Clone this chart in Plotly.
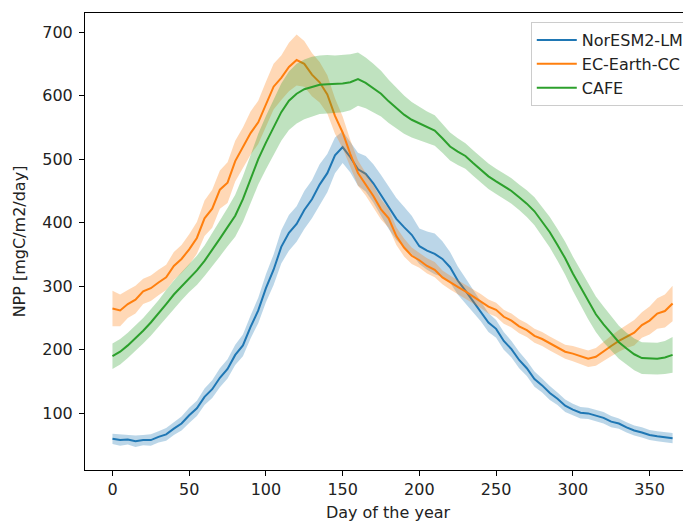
import plotly.graph_objects as go

# day-of-year sample points (every 5 days)
DAYS = [0, 5, 10, 15, 20, 25, 30, 35, 40, 45, 50, 55, 60, 65, 70, 75, 80, 85, 90, 95,
        100, 105, 110, 115, 120, 125, 130, 135, 140, 145, 150, 155, 160, 165, 170, 175,
        180, 185, 190, 195, 200, 205, 210, 215, 220, 225, 230, 235, 240, 245, 250, 255,
        260, 265, 270, 275, 280, 285, 290, 295, 300, 305, 310, 315, 320, 325, 330, 335,
        340, 345, 350, 355, 360, 365]

NORESM_MEAN = [60, 58, 59, 56, 58, 58, 63, 67, 76, 84, 97, 108, 126, 138, 156, 170, 192, 207, 236, 262,
               297, 326, 362, 384, 398, 420, 437, 460, 478, 506, 519, 503, 484, 477, 462, 443,
               424, 406, 393, 381, 363, 356, 351, 343, 330, 309, 293, 276, 261, 243, 233, 214,
               201, 184, 171, 154, 144, 132, 123, 112, 106, 101, 100, 96, 93, 87, 84, 78,
               73, 70, 66, 64, 62, 61]
NORESM_SPREAD = [8, 9, 8, 9, 8, 9, 9, 10, 10, 11, 12, 12, 13, 14, 15, 15, 16, 17, 18, 20,
                 22, 24, 26, 28, 28, 30, 30, 32, 30, 28, 25, 24, 26, 28, 30, 32,
                 34, 33, 32, 30, 28, 30, 32, 28, 24, 22, 20, 18, 16, 15, 14, 14,
                 13, 13, 12, 12, 11, 11, 10, 10, 9, 9, 9, 9, 9, 9, 8, 8,
                 8, 8, 8, 8, 8, 8]

ECEARTH_MEAN = [265, 262, 272, 279, 292, 297, 306, 314, 332, 343, 358, 376, 407, 422, 452, 463, 497, 518, 541, 558,
                587, 614, 628, 645, 656, 650, 633, 621, 602, 568, 542, 508, 478, 461, 442, 421,
                407, 379, 361, 348, 341, 332, 326, 314, 306, 299, 292, 284, 277, 268, 263, 252,
                246, 237, 231, 222, 217, 210, 203, 197, 194, 190, 186, 189, 198, 206, 214, 221,
                227, 239, 246, 257, 261, 273]
ECEARTH_SPREAD = [28, 25, 22, 22, 20, 20, 20, 20, 22, 22, 24, 25, 28, 30, 30, 32, 32, 32, 34, 34,
                  35, 36, 35, 38, 40, 36, 34, 32, 30, 28, 25, 22, 20, 18, 17, 16,
                  15, 14, 14, 13, 12, 12, 12, 11, 11, 11, 11, 11, 11, 11, 11, 11,
                  11, 11, 11, 11, 11, 11, 11, 11, 12, 12, 13, 14, 15, 16, 17, 18,
                  20, 20, 22, 24, 26, 28]

CAFE_MEAN = [190, 197, 207, 218, 230, 243, 257, 272, 287, 300, 313, 325, 340, 357, 375, 393, 411, 437, 468, 500,
             526, 550, 574, 592, 603, 610, 614, 617, 618, 618, 619, 621, 626, 620, 612, 603,
             591, 580, 570, 562, 556, 550, 545, 533, 520, 512, 505, 494, 483, 473, 465, 457,
             450, 440, 430, 418, 402, 385, 365, 344, 320, 298, 276, 256, 240, 226, 212, 202,
             193, 187, 186, 186, 188, 192]
CAFE_SPREAD = [20, 20, 20, 20, 20, 21, 21, 22, 22, 22, 22, 23, 24, 26, 28, 30, 33, 36, 38, 40,
               42, 44, 45, 46, 47, 47, 47, 46, 46, 45, 45, 44, 42, 40, 38, 36,
               34, 32, 30, 28, 26, 25, 24, 23, 22, 21, 20, 20, 20, 20, 20, 20,
               20, 20, 21, 22, 23, 24, 25, 26, 27, 28, 28, 28, 28, 27, 26, 25,
               25, 25, 25, 25, 26, 28]

MODELS = [
    ("NorESM2-LM", NORESM_MEAN, NORESM_SPREAD, "31,119,180"),
    ("EC-Earth-CC", ECEARTH_MEAN, ECEARTH_SPREAD, "255,127,14"),
    ("CAFE", CAFE_MEAN, CAFE_SPREAD, "44,160,44"),
]

FONT = "DejaVu Sans, Verdana, sans-serif"
TEXT = "#222222"

fig = go.Figure()
for name, mean, spread, rgb in MODELS:
    lower = [m - s for m, s in zip(mean, spread)]
    upper = [m + s for m, s in zip(mean, spread)]
    fig.add_trace(go.Scatter(x=DAYS, y=lower, mode="lines", line=dict(width=0),
                             showlegend=False, hoverinfo="skip"))
    fig.add_trace(go.Scatter(x=DAYS, y=upper, mode="lines", line=dict(width=0),
                             fill="tonexty", fillcolor=f"rgba({rgb},0.3)",
                             showlegend=False, hoverinfo="skip"))
    fig.add_trace(go.Scatter(x=DAYS, y=mean, mode="lines", name=name,
                             line=dict(color=f"rgb({rgb})", width=2)))

axis_style = dict(showgrid=False, zeroline=False, showline=True, linecolor="black",
                  linewidth=1, ticks="outside", ticklen=5, tickwidth=1, tickcolor="black",
                  tickfont=dict(family=FONT, size=16, color=TEXT))

fig.update_xaxes(range=[-17.9, 377], tickvals=[0, 50, 100, 150, 200, 250, 300, 350],
                 mirror=True, title=dict(text="Day of the year", standoff=10,
                                         font=dict(family=FONT, size=16, color=TEXT)),
                 **axis_style)
fig.update_yaxes(range=[10.9, 730], tickvals=[100, 200, 300, 400, 500, 600, 700],
                 ticklabelstandoff=3,
                 title=dict(text="NPP [mgC/m2/day]", standoff=12,
                            font=dict(family=FONT, size=16, color=TEXT)),
                 **axis_style)

# the page body adds an 8px offset, so the figure is sized to end at the window edge
fig.update_layout(
    width=683, height=514, autosize=False,
    margin=dict(l=77, r=0, t=5, b=52),
    plot_bgcolor="white", paper_bgcolor="white",
    font=dict(family=FONT, size=16, color=TEXT),
    legend=dict(x=0.998, xanchor="right", y=0.98, yanchor="top", traceorder="normal",
                itemwidth=40,
                bgcolor="rgba(255,255,255,0.85)", bordercolor="#cccccc", borderwidth=1,
                font=dict(family=FONT, size=16, color=TEXT)),
)

fig.write_html("out.html")
